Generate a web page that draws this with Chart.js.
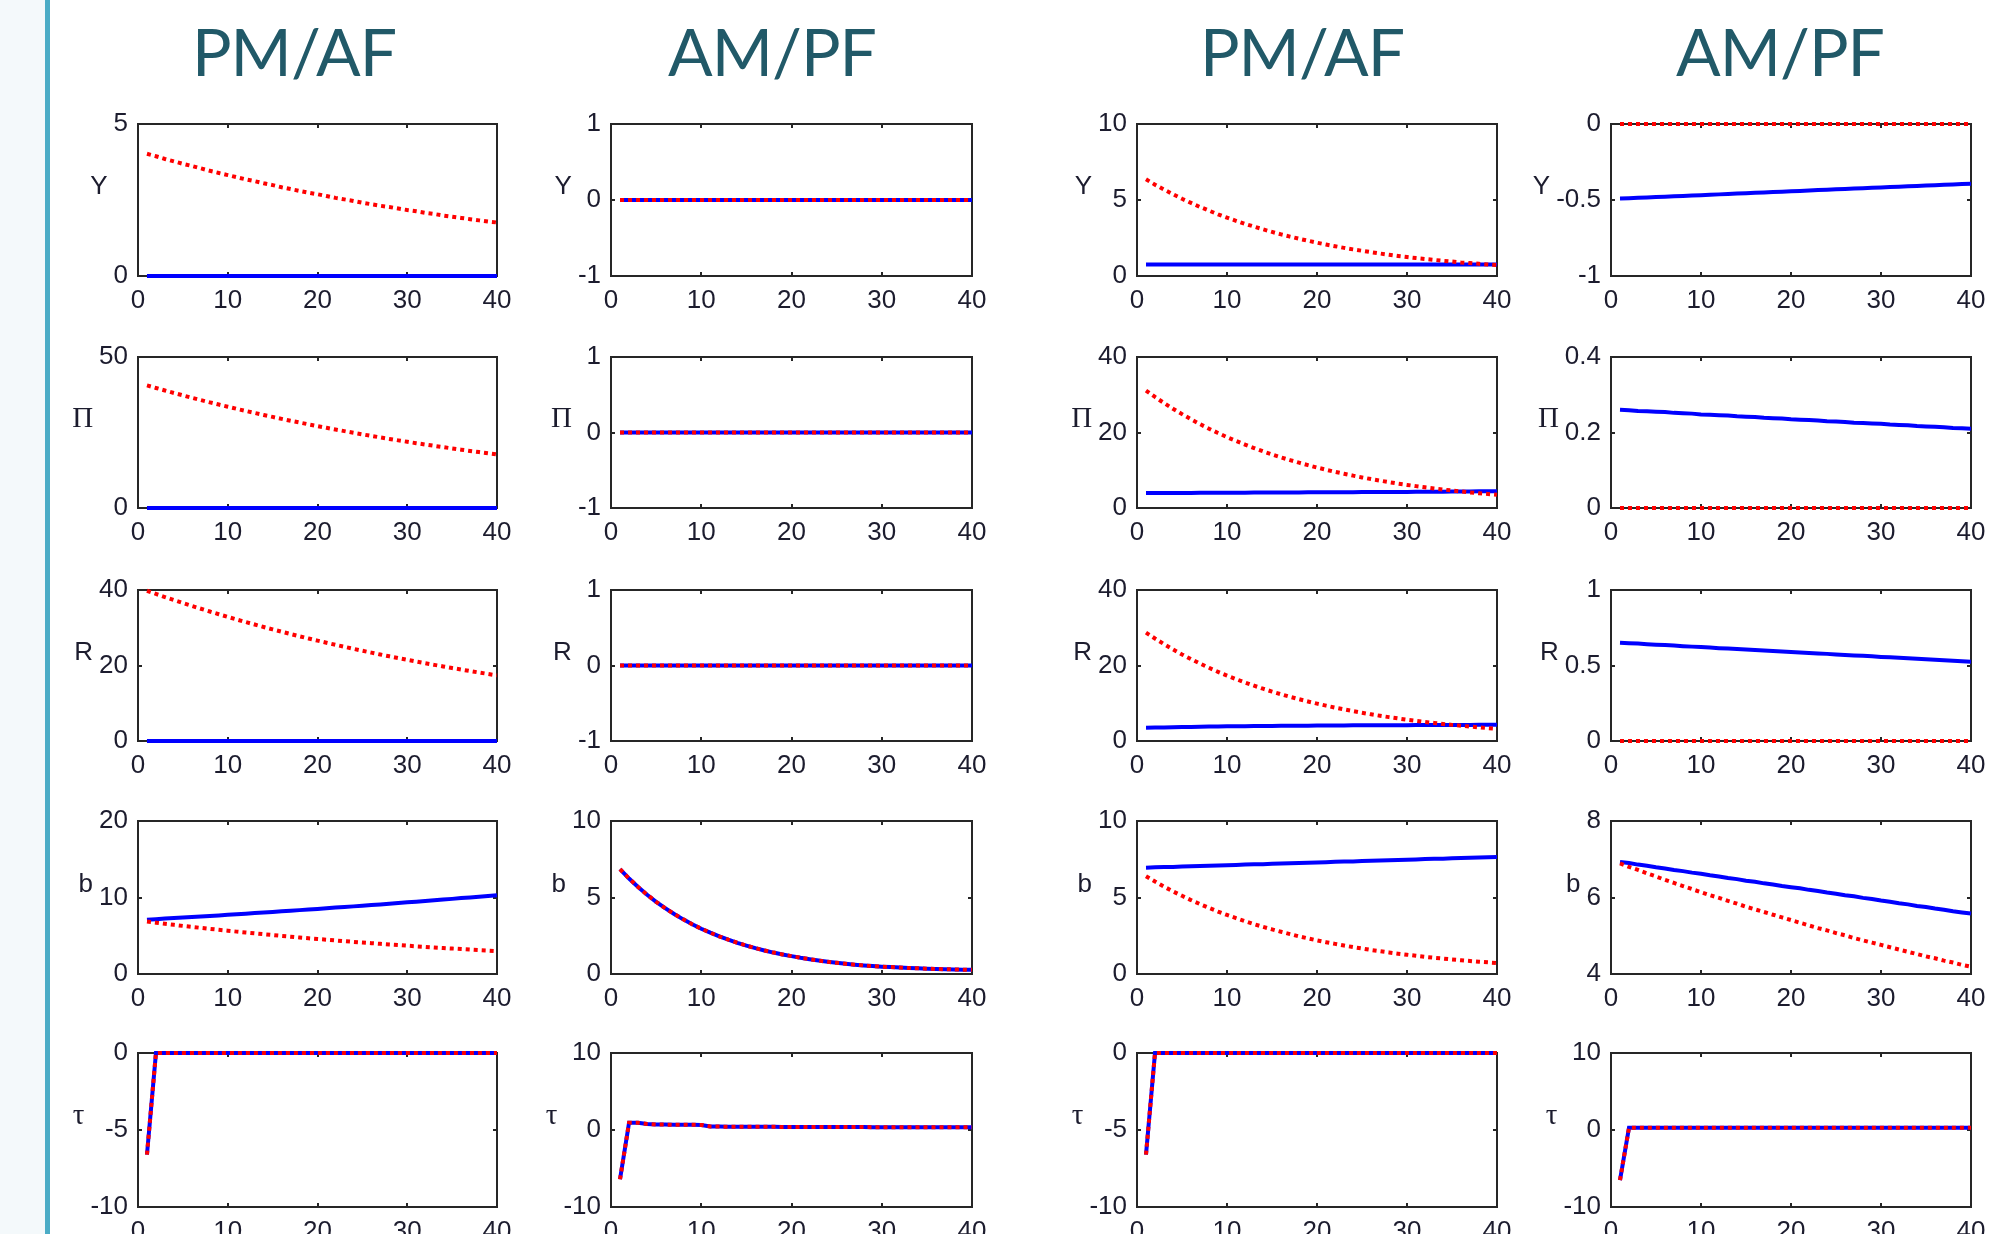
<!DOCTYPE html>
<html>
<head>
<meta charset="utf-8">
<script src="https://cdn.jsdelivr.net/npm/chart.js@4.4.0/dist/chart.umd.min.js"></script>
<style>
  html, body { margin: 0; padding: 0; width: 2003px; height: 1234px; overflow: hidden; background: #fff; }
  #side { position: absolute; left: 0; top: 0; width: 45px; height: 1234px; background: #f4f9fb; }
  #bar { position: absolute; left: 45px; top: 0; width: 5px; height: 1234px; background: #4bacc6; }
  .head { position: absolute; top: 11px; width: 320px; margin-left: -160px; text-align: center;
          font-family: Lato, 'Open Sans', sans-serif; font-size: 66px; line-height: 80px;
          letter-spacing: -1px; color: #215968; }
  canvas { position: absolute; }
</style>
</head>
<body>
<div id="side"></div>
<div id="bar"></div>
<div class="head" style="left:294px">PM/AF</div>
<div class="head" style="left:772px">AM/PF</div>
<div class="head" style="left:1302px">PM/AF</div>
<div class="head" style="left:1780px">AM/PF</div>
<script>
// periods 1..40
const periods = [1,2,3,4,5,6,7,8,9,10, 11,12,13,14,15,16,17,18,19,20,
                 21,22,23,24,25,26,27,28,29,30, 31,32,33,34,35,36,37,38,39,40];
const xTicks = [0, 10, 20, 30, 40];

const flatZero = [0,0,0,0,0,0,0,0,0,0, 0,0,0,0,0,0,0,0,0,0,
                  0,0,0,0,0,0,0,0,0,0, 0,0,0,0,0,0,0,0,0,0];

// column 1: PM/AF
const yRed1 = [4.02,3.94,3.85,3.77,3.69,3.62,3.54,3.46,3.39,3.32,
               3.25,3.18,3.12,3.05,2.99,2.92,2.86,2.80,2.74,2.69,
               2.63,2.57,2.52,2.47,2.41,2.36,2.31,2.27,2.22,2.17,
               2.13,2.08,2.04,1.99,1.95,1.91,1.87,1.83,1.79,1.76];
const piRed1 = [40.60,39.75,38.91,38.09,37.30,36.51,35.74,34.99,34.26,33.54,
                32.83,32.14,31.47,30.81,30.16,29.52,28.90,28.30,27.70,27.12,
                26.55,25.99,25.45,24.91,24.39,23.88,23.37,22.88,22.40,21.93,
                21.47,21.02,20.58,20.15,19.72,19.31,18.90,18.51,18.12,17.73];
const rRed1 = [39.80,38.96,38.14,37.34,36.56,35.79,35.04,34.30,33.58,32.87,
               32.19,31.51,30.85,30.20,29.56,28.94,28.33,27.74,27.16,26.59,
               26.03,25.48,24.95,24.42,23.91,23.41,22.91,22.43,21.96,21.50,
               21.05,20.60,20.17,19.75,19.33,18.93,18.53,18.14,17.76,17.38];
const bBlue1 = [7.10,7.17,7.24,7.31,7.38,7.45,7.52,7.59,7.66,7.74,
                7.81,7.89,7.96,8.04,8.12,8.19,8.27,8.35,8.43,8.51,
                8.59,8.68,8.76,8.84,8.93,9.01,9.10,9.19,9.28,9.37,
                9.46,9.55,9.64,9.73,9.82,9.92,10.01,10.11,10.21,10.30];
const bRed1 = [6.85,6.71,6.57,6.43,6.29,6.16,6.03,5.90,5.78,5.66,
               5.54,5.42,5.31,5.20,5.09,4.98,4.88,4.77,4.67,4.58,
               4.48,4.39,4.29,4.20,4.11,4.03,3.94,3.86,3.78,3.70,
               3.62,3.55,3.47,3.40,3.33,3.26,3.19,3.12,3.06,2.99];
const tauPmaf = [-6.6,0,0,0,0,0,0,0,0,0, 0,0,0,0,0,0,0,0,0,0,
                 0,0,0,0,0,0,0,0,0,0, 0,0,0,0,0,0,0,0,0,0];

// column 2: AM/PF
const bBoth2 = [6.85,6.24,5.69,5.18,4.72,4.30,3.92,3.57,3.25,2.96,
                2.70,2.46,2.24,2.04,1.86,1.69,1.54,1.40,1.28,1.17,
                1.06,0.97,0.88,0.80,0.73,0.67,0.61,0.56,0.52,0.48,
                0.45,0.42,0.39,0.37,0.35,0.33,0.31,0.30,0.28,0.27];
const tauBoth2 = [-6.4,0.95,0.93,0.78,0.72,0.70,0.69,0.68,0.67,0.66,
                  0.45,0.44,0.43,0.43,0.42,0.42,0.41,0.41,0.40,0.40,
                  0.40,0.39,0.39,0.39,0.38,0.38,0.38,0.38,0.37,0.37,
                  0.37,0.37,0.36,0.36,0.36,0.36,0.36,0.35,0.35,0.35];

// column 3: PM/AF
const yBlue3 = [0.75,0.75,0.75,0.75,0.75,0.75,0.75,0.75,0.75,0.75,
                0.75,0.75,0.75,0.75,0.75,0.75,0.75,0.75,0.75,0.75,
                0.75,0.75,0.75,0.75,0.75,0.75,0.75,0.75,0.75,0.75,
                0.75,0.75,0.75,0.75,0.75,0.75,0.75,0.75,0.75,0.75];
const yRed3 = [6.36,6.01,5.69,5.38,5.08,4.81,4.54,4.30,4.06,3.84,
               3.63,3.43,3.25,3.07,2.90,2.74,2.59,2.45,2.32,2.19,
               2.07,1.96,1.85,1.75,1.66,1.57,1.48,1.40,1.32,1.25,
               1.18,1.12,1.06,1.00,0.95,0.89,0.85,0.80,0.76,0.72];
const piBlue3 = [3.95,3.96,3.97,3.98,3.99,4.00,4.01,4.02,4.04,4.05,
                 4.06,4.07,4.08,4.09,4.10,4.11,4.12,4.13,4.14,4.15,
                 4.17,4.18,4.19,4.20,4.21,4.22,4.23,4.25,4.26,4.27,
                 4.28,4.30,4.31,4.33,4.35,4.37,4.39,4.41,4.43,4.45];
const piRed3 = [31.10,29.41,27.80,26.29,24.86,23.50,22.22,21.01,19.86,18.78,
                17.76,16.79,15.88,15.01,14.19,13.42,12.69,12.00,11.34,10.72,
                10.14,9.59,9.07,8.57,8.10,7.66,7.24,6.85,6.47,6.12,
                5.79,5.47,5.18,4.90,4.63,4.38,4.14,3.91,3.70,3.50];
const rBlue3 = [3.50,3.55,3.60,3.65,3.70,3.74,3.78,3.82,3.86,3.90,
                3.92,3.94,3.96,3.98,4.00,4.02,4.04,4.05,4.07,4.08,
                4.10,4.11,4.12,4.14,4.15,4.16,4.17,4.18,4.19,4.20,
                4.21,4.22,4.23,4.24,4.25,4.26,4.27,4.28,4.29,4.30];
const rRed3 = [28.70,27.14,25.66,24.26,22.94,21.69,20.51,19.39,18.33,17.33,
               16.39,15.50,14.65,13.85,13.10,12.38,11.71,11.07,10.47,9.90,
               9.36,8.85,8.37,7.91,7.48,7.07,6.68,6.32,5.98,5.65,
               5.34,5.05,4.78,4.52,4.27,4.04,3.82,3.61,3.41,3.23];
const bBlue3 = [6.95,6.97,6.99,7.00,7.02,7.04,7.06,7.08,7.09,7.11,
                7.13,7.15,7.17,7.18,7.20,7.22,7.24,7.26,7.27,7.29,
                7.31,7.33,7.35,7.36,7.38,7.40,7.42,7.44,7.45,7.47,
                7.49,7.51,7.53,7.54,7.56,7.58,7.60,7.62,7.63,7.65];
const bRed3 = [6.39,6.04,5.71,5.40,5.11,4.83,4.57,4.32,4.08,3.86,
               3.65,3.45,3.26,3.08,2.92,2.76,2.61,2.46,2.33,2.20,
               2.08,1.97,1.86,1.76,1.67,1.57,1.49,1.41,1.33,1.26,
               1.19,1.12,1.06,1.01,0.95,0.90,0.85,0.80,0.76,0.72];

// column 4: AM/PF
const yBlue4 = [-0.490,-0.488,-0.485,-0.483,-0.480,-0.478,-0.475,-0.473,-0.470,-0.468,
                -0.465,-0.463,-0.460,-0.458,-0.455,-0.453,-0.450,-0.448,-0.445,-0.443,
                -0.440,-0.438,-0.435,-0.433,-0.430,-0.428,-0.425,-0.423,-0.420,-0.418,
                -0.415,-0.413,-0.410,-0.408,-0.405,-0.403,-0.400,-0.398,-0.395,-0.393];
const piBlue4 = [0.260,0.259,0.257,0.256,0.255,0.254,0.252,0.251,0.250,0.248,
                 0.247,0.246,0.245,0.243,0.242,0.241,0.239,0.238,0.237,0.235,
                 0.234,0.233,0.232,0.230,0.229,0.228,0.226,0.225,0.224,0.223,
                 0.221,0.220,0.219,0.217,0.216,0.215,0.214,0.212,0.211,0.210];
const rBlue4 = [0.651,0.648,0.645,0.641,0.638,0.635,0.632,0.628,0.625,0.622,
                0.619,0.615,0.612,0.609,0.606,0.603,0.599,0.596,0.593,0.590,
                0.586,0.583,0.580,0.577,0.573,0.570,0.567,0.564,0.561,0.557,
                0.554,0.551,0.548,0.544,0.541,0.538,0.535,0.531,0.528,0.525];
const bBlue4 = [6.93,6.90,6.86,6.83,6.79,6.76,6.72,6.69,6.65,6.62,
                6.58,6.55,6.51,6.48,6.44,6.41,6.37,6.34,6.30,6.27,
                6.24,6.20,6.17,6.13,6.10,6.06,6.03,5.99,5.96,5.92,
                5.89,5.85,5.82,5.78,5.75,5.71,5.68,5.64,5.61,5.58];
const bRed4 = [6.89,6.80,6.72,6.63,6.55,6.46,6.38,6.30,6.22,6.14,
               6.06,5.99,5.91,5.84,5.76,5.69,5.62,5.55,5.48,5.41,
               5.34,5.27,5.20,5.14,5.07,5.01,4.94,4.88,4.82,4.76,
               4.70,4.64,4.58,4.52,4.46,4.41,4.35,4.30,4.24,4.19];
const tauBoth4 = [-6.5,0.3,0.3,0.3,0.3,0.3,0.3,0.3,0.3,0.3,
                  0.3,0.3,0.3,0.3,0.3,0.3,0.3,0.3,0.3,0.3,
                  0.3,0.3,0.3,0.3,0.3,0.3,0.3,0.3,0.3,0.3,
                  0.3,0.3,0.3,0.3,0.3,0.3,0.3,0.3,0.3,0.3];

// y tick labels per panel
const yTicksY = [[0, 5], [-1, 0, 1], [0, 5, 10], [-1, -0.5, 0]];
const yTicksPi = [[0, 50], [-1, 0, 1], [0, 20, 40], [0, 0.2, 0.4]];
const yTicksR = [[0, 20, 40], [-1, 0, 1], [0, 20, 40], [0, 0.5, 1]];
const yTicksB = [[0, 10, 20], [0, 5, 10], [0, 5, 10], [4, 6, 8]];
const yTicksTau = [[-10, -5, 0], [-10, 0, 10], [-10, -5, 0], [-10, 0, 10]];

const rowLabels = ['Y', '\u03A0', 'R', 'b', '\u03C4'];

// blue = solid, red = dotted, per row then column
const seriesBlue = [
  [flatZero, flatZero, yBlue3, yBlue4],
  [flatZero, flatZero, piBlue3, piBlue4],
  [flatZero, flatZero, rBlue3, rBlue4],
  [bBlue1, bBoth2, bBlue3, bBlue4],
  [tauPmaf, tauBoth2, tauPmaf, tauBoth4]
];
const seriesRed = [
  [yRed1, flatZero, yRed3, flatZero],
  [piRed1, flatZero, piRed3, flatZero],
  [rRed1, flatZero, rRed3, flatZero],
  [bRed1, bBoth2, bRed3, bRed4],
  [tauPmaf, tauBoth2, tauPmaf, tauBoth4]
];
const rowTicks = [yTicksY, yTicksPi, yTicksR, yTicksB, yTicksTau];

// layout of the plot boxes on the page
const colLeft = [138, 611, 1137, 1611];
const colRight = [497, 972, 1497, 1971];
const rowTop = [124, 357, 590, 821, 1053];
const rowBottom = [276, 508, 741, 974, 1207];
const padL = 112, padT = 40, padR = 30, padB = 52;

const textColor = '#1c1c2e';
const tickFontFamily = "'Liberation Sans', Arial, sans-serif";
const tickFontCss = '26px ' + tickFontFamily;

const matlabAxes = {
  id: 'matlabAxes',
  beforeDatasetsDraw(chart) {
    const { ctx, chartArea: a } = chart;
    const xs = chart.scales.x, ys = chart.scales.y;
    ctx.save();
    ctx.strokeStyle = '#262626';
    ctx.lineWidth = 2;
    ctx.strokeRect(a.left, a.top, a.right - a.left, a.bottom - a.top);
    ctx.beginPath();
    xs.ticks.forEach(t => {
      const px = Math.round(xs.getPixelForValue(t.value));
      ctx.moveTo(px, a.bottom); ctx.lineTo(px, a.bottom - 4);
      ctx.moveTo(px, a.top); ctx.lineTo(px, a.top + 4);
    });
    ys.ticks.forEach(t => {
      const py = Math.round(ys.getPixelForValue(t.value));
      ctx.moveTo(a.left, py); ctx.lineTo(a.left + 4, py);
      ctx.moveTo(a.right, py); ctx.lineTo(a.right - 4, py);
    });
    ctx.stroke();
    ctx.restore();
  },
  afterDraw(chart, args, opts) {
    const { ctx, chartArea: a } = chart;
    const ys = chart.scales.y;
    ctx.save();
    ctx.font = tickFontCss;
    const widest = Math.max(...ys.ticks.map(t => ctx.measureText(String(t.label)).width));
    ctx.font = opts.font;
    ctx.fillStyle = textColor;
    ctx.textAlign = 'right';
    ctx.textBaseline = 'alphabetic';
    ctx.fillText(opts.text, a.left - 10 - widest - 6, (a.top + a.bottom) / 2 - 6);
    ctx.restore();
  }
};

for (let r = 0; r < 5; r++) {
  for (let c = 0; c < 4; c++) {
    const plotW = colRight[c] - colLeft[c];
    const plotH = rowBottom[r] - rowTop[r];
    const canvas = document.createElement('canvas');
    canvas.width = plotW + padL + padR;
    canvas.height = plotH + padT + padB;
    canvas.style.left = (colLeft[c] - padL) + 'px';
    canvas.style.top = (rowTop[r] - padT) + 'px';
    document.body.appendChild(canvas);

    const yt = rowTicks[r][c];
    const greek = r === 1 || r === 4;
    new Chart(canvas, {
      type: 'line',
      data: {
        datasets: [
          {
            data: periods.map((p, i) => ({ x: p, y: seriesRed[r][c][i] })),
            borderColor: '#ff0000',
            borderWidth: 4,
            borderDash: [4, 4],
            pointRadius: 0,
            order: 0,
            clip: 4
          },
          {
            data: periods.map((p, i) => ({ x: p, y: seriesBlue[r][c][i] })),
            borderColor: '#0000ff',
            borderWidth: 4,
            pointRadius: 0,
            order: 1,
            clip: 4
          }
        ]
      },
      options: {
        responsive: false,
        animation: false,
        devicePixelRatio: 1,
        events: [],
        layout: { padding: { left: 0, top: padT, right: padR, bottom: 0 } },
        plugins: {
          legend: { display: false },
          tooltip: { enabled: false },
          matlabAxes: {
            text: rowLabels[r],
            font: greek ? "29px 'Liberation Serif', 'Times New Roman', serif" : '26px ' + tickFontFamily
          }
        },
        scales: {
          x: {
            type: 'linear',
            min: 0,
            max: 40,
            afterBuildTicks: s => { s.ticks = xTicks.map(v => ({ value: v })); },
            afterFit: s => { s.height = padB; },
            grid: { display: false, drawTicks: false },
            border: { display: false },
            ticks: { font: { family: tickFontFamily, size: 26 }, color: textColor, padding: 9, maxRotation: 0, autoSkip: false }
          },
          y: {
            type: 'linear',
            min: yt[0],
            max: yt[yt.length - 1],
            afterBuildTicks: s => { s.ticks = yt.map(v => ({ value: v })); },
            afterFit: s => { s.width = padL; },
            grid: { display: false, drawTicks: false },
            border: { display: false },
            ticks: { font: { family: tickFontFamily, size: 26 }, color: textColor, padding: 10, autoSkip: false, callback: v => String(v) }
          }
        }
      },
      plugins: [matlabAxes]
    });
  }
}
</script>
</body>
</html>
